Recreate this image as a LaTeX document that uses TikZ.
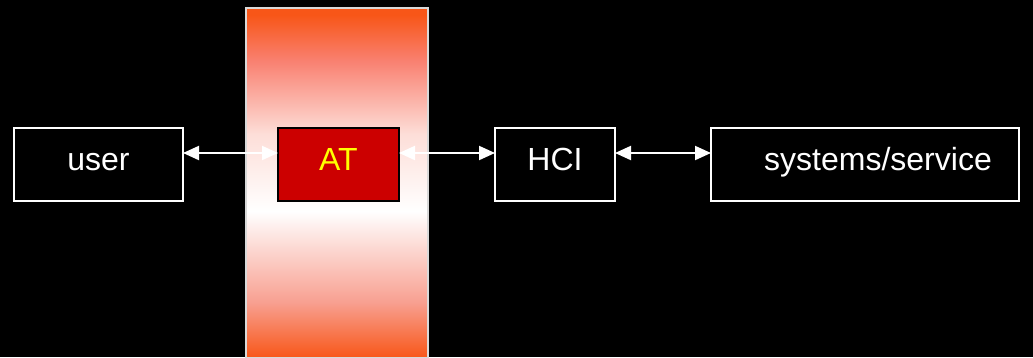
\documentclass[tikz,border=0pt]{standalone}
\usepackage{fontspec}
\setmainfont{Liberation Sans}
\usetikzlibrary{arrows.meta,calc}

\definecolor{bandorange}{RGB}{248,86,24}
\definecolor{bandsalmon}{RGB}{249,128,112}
\definecolor{bandblush}{RGB}{253,222,216}
\definecolor{bandpink}{RGB}{248,160,145}
\definecolor{atred}{RGB}{204,0,0}
\definecolor{atyellow}{RGB}{255,255,0}
\pgfdeclareverticalshading{atband}{100bp}{color(0bp)=(bandorange); color(25bp)=(bandorange); color(33bp)=(bandpink); color(46bp)=(white); color(57bp)=(bandblush); color(67.5bp)=(bandsalmon); color(74bp)=(bandorange); color(100bp)=(bandorange)}

\begin{document}
\begin{tikzpicture}
  [
    x=1pt, y=1pt,
    font=\fontsize{32}{38}\selectfont,
    box/.style =
      {draw=white, line width=2pt, text=white, minimum height=73pt,
       text height=22pt, text depth=11pt, inner sep=0pt, outer sep=0pt},
    atbox/.style =
      {box, draw=black, fill=atred, text=atyellow},
    link/.style =
      {{Triangle[length=16pt,width=14pt]}-{Triangle[length=16pt,width=14pt]},
       white, line width=2pt}
  ]
  \fill [black] (0, 0) rectangle (1033, -357);
  \useasboundingbox (0, 0) rectangle (1033, -357);

  \shade [shading=atband, draw=white!85!black, line width=1.5pt]
    (246, -8) rectangle (428, -358);

  \node [box, minimum width=169pt]   at (98.5, -164.5)  (user) {user};
  \node [atbox, minimum width=121pt] at (338.5, -164.5) (at)   {AT};
  \node [box, minimum width=120pt]   at (555, -164.5)   (hci)  {HCI};
  \node [box, minimum width=308pt]   at (865, -164.5)   (sys)
    {\hspace*{26pt}systems/service};

  \draw [link] ([yshift=11.5pt]user.east) -- ([yshift=11.5pt]at.west);
  \draw [link] ([yshift=11.5pt]at.east)   -- ([yshift=11.5pt]hci.west);
  \draw [link] ([yshift=11.5pt]hci.east)  -- ([yshift=11.5pt]sys.west);

\end{tikzpicture}
\end{document}
